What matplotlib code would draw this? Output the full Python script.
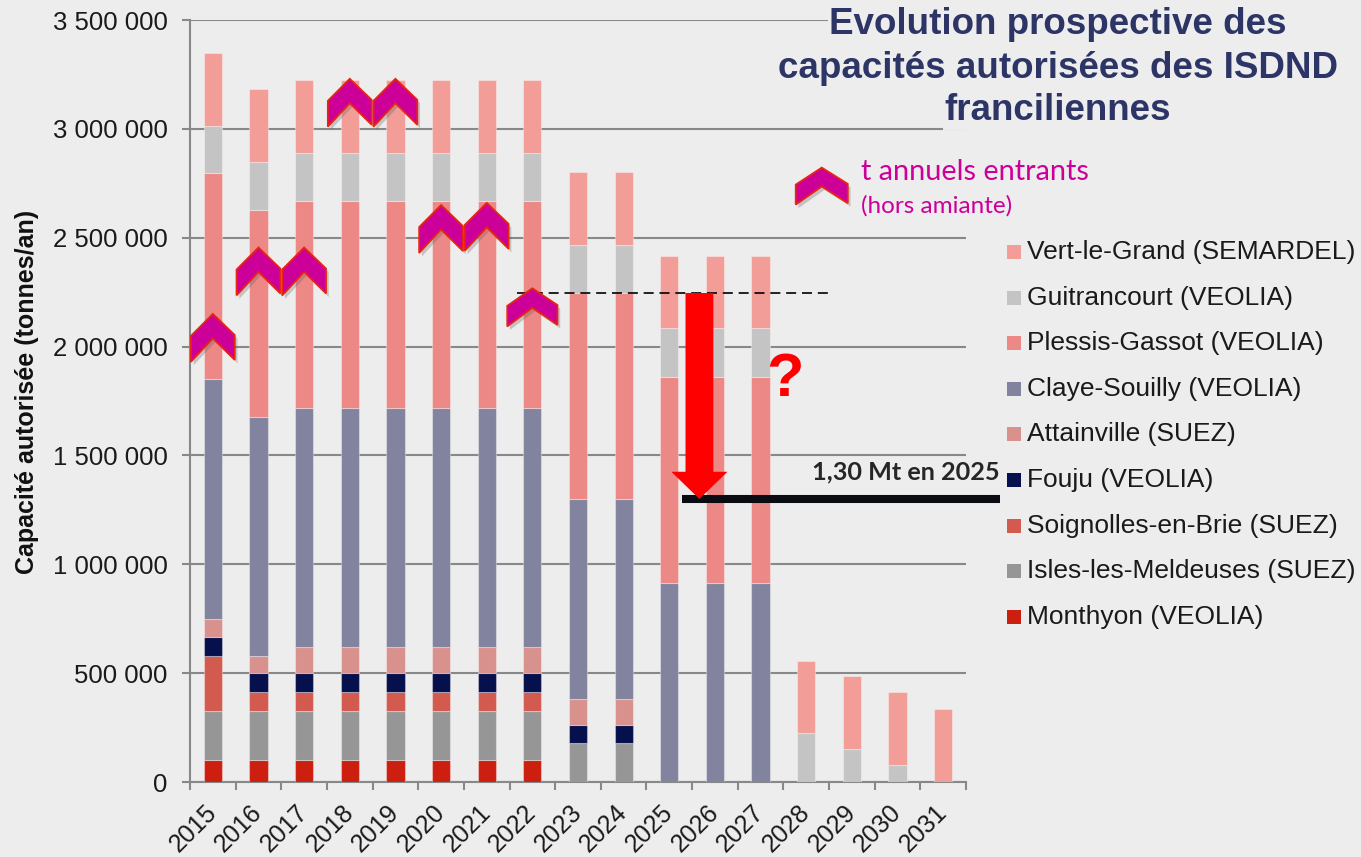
import numpy as np
import matplotlib
matplotlib.use('Agg')
import matplotlib.pyplot as plt
from matplotlib.patches import Polygon, Rectangle
from matplotlib.ticker import FuncFormatter

plt.rcParams['font.family'] = ['Liberation Sans', 'DejaVu Sans']

# --- data (tonnes/an) ---
years = ['2015', '2016', '2017', '2018', '2019', '2020', '2021', '2022', '2023',
         '2024', '2025', '2026', '2027', '2028', '2029', '2030', '2031']

monthyon     = [100000, 100000, 100000, 100000, 100000, 100000, 100000, 100000, 0, 0, 0, 0, 0, 0, 0, 0, 0]
isles        = [225000, 225000, 225000, 225000, 225000, 225000, 225000, 225000, 180000, 180000, 0, 0, 0, 0, 0, 0, 0]
soignolles   = [255000, 88000, 88000, 88000, 88000, 88000, 88000, 88000, 0, 0, 0, 0, 0, 0, 0, 0, 0]
fouju        = [85000, 87000, 87000, 87000, 87000, 87000, 87000, 87000, 83000, 83000, 0, 0, 0, 0, 0, 0, 0]
attainville  = [85000, 78000, 120000, 120000, 120000, 120000, 120000, 120000, 120000, 120000, 0, 0, 0, 0, 0, 0, 0]
claye        = [1100000, 1100000, 1100000, 1100000, 1100000, 1100000, 1100000, 1100000, 915000, 915000,
                915000, 915000, 915000, 0, 0, 0, 0]
plessis      = [945000, 950000, 950000, 950000, 950000, 950000, 950000, 950000, 950000, 950000,
                945000, 945000, 945000, 0, 0, 0, 0]
guitrancourt = [220000, 220000, 220000, 220000, 220000, 220000, 220000, 220000, 220000, 220000,
                225000, 225000, 225000, 225000, 150000, 80000, 0]
vert         = [335000, 335000, 335000, 335000, 335000, 335000, 335000, 335000, 335000, 335000,
                330000, 330000, 330000, 330000, 335000, 335000, 335000]

series = [
    ('Monthyon (VEOLIA)', monthyon, '#CC1F10'),
    ('Isles-les-Meldeuses (SUEZ)', isles, '#969696'),
    ('Soignolles-en-Brie (SUEZ)', soignolles, '#D35A4F'),
    ('Fouju (VEOLIA)', fouju, '#06104C'),
    ('Attainville (SUEZ)', attainville, '#D9918D'),
    ('Claye-Souilly (VEOLIA)', claye, '#82839E'),
    ('Plessis-Gassot (VEOLIA)', plessis, '#EC8885'),
    ('Guitrancourt (VEOLIA)', guitrancourt, '#C4C4C4'),
    ('Vert-le-Grand (SEMARDEL)', vert, '#F29D97'),
]

# tonnages annuels entrants (hors amiante), 2015-2022
entrants = [2040000, 2345000, 2345000, 3120000, 3120000, 2540000, 2550000, 2180000]
niveau_2022 = 2246000
objectif_2025 = 1300000

bg = '#EDEDED'
grid_c = '#888888'
magenta = '#CC0099'

fig = plt.figure(figsize=(13.61, 8.57), dpi=100, facecolor=bg)
ax = fig.add_axes([190 / 1361, 75 / 857, 776 / 1361, 762 / 857], facecolor=bg)

x = np.arange(len(years))
bottom = np.zeros(len(years))
for name, vals, col in series:
    v = np.array(vals, dtype=float)
    ax.bar(x, v, 0.4, bottom=bottom, color=col, edgecolor=(1, 1, 1, 0.35), linewidth=0.8, zorder=3)
    bottom += v

ax.set_xlim(-0.5, 16.5)
ax.set_ylim(0, 3500000)
ax.set_yticks(np.arange(0, 3500001, 500000))
ax.yaxis.set_major_formatter(FuncFormatter(lambda v, p: f'{int(v):,}'.replace(',', ' ')))
ax.yaxis.grid(True, color=grid_c, linewidth=1.5)
ax.set_axisbelow(True)
for s in ['top', 'right']:
    ax.spines[s].set_visible(False)
for s in ['left', 'bottom']:
    ax.spines[s].set_color(grid_c)
    ax.spines[s].set_linewidth(1.5)
ax.tick_params(axis='y', length=6, width=1.5, color=grid_c, labelsize=18.5, labelcolor='#1A1A1A', pad=10)
ax.set_xticks(x)
ax.set_xticklabels(years, rotation=45, ha='right', va='center', rotation_mode='anchor')
ax.set_xticks(np.arange(-0.5, 17, 1), minor=True)
ax.tick_params(axis='x', which='major', length=0, labelsize=18, labelcolor='#1A1A1A', pad=19)
ax.tick_params(axis='x', which='minor', length=6, width=1.5, color=grid_c)

fig.text(27 / 1361, 1 - 392 / 857, 'Capacité autorisée (tonnes/an)', rotation=90,
         ha='center', va='center', fontsize=18, weight='bold', color='#111111')


def chevron(xc, yc, w, h, z=7):
    pts = np.array([[0, .5], [.5, .06], [.5, -.46], [0, -.01], [-.5, -.5], [-.5, .04]])
    xy = np.column_stack([xc + pts[:, 0] * w, yc + pts[:, 1] * h])
    ax.add_patch(Polygon(xy + [0.06, -16000], closed=True, fc='#606060', ec='none',
                         alpha=0.3, zorder=z - 0.1, clip_on=False))
    ax.add_patch(Polygon(xy, closed=True, fc=magenta, ec='#E8260F', lw=1.3, zorder=z, clip_on=False))


for i, v in enumerate(entrants):
    if i == 7:
        chevron(i, v, 1.1, 175000)
    else:
        chevron(i, v, 0.96, 220000)

# legend for chevrons
chevron(13.34, 2737000, 1.14, 170000)
ax.text(14.19, 2802000, 't annuels entrants', fontsize=20.8, color=magenta, family='Lato',
        ha='left', va='center', zorder=8)
ax.text(14.19, 2646000, '(hors amiante)', fontsize=17.5, color=magenta, family='Lato',
        ha='left', va='center', zorder=8)

# dashed reference + arrow + 2025 target
ax.plot([6.67, 13.56], [niveau_2022, niveau_2022], color='black', lw=1.2, dashes=(6, 3.5), zorder=6)
ax.arrow(10.66, niveau_2022, 0, objectif_2025 - niveau_2022, width=0.61, head_width=1.23,
         head_length=125000, length_includes_head=True, fc='#FF0000', ec='none', zorder=7)
ax.plot([10.27, 17.24], [objectif_2025, objectif_2025], color='#0B0B12', lw=5.8,
        solid_capstyle='butt', clip_on=False, zorder=6)
ax.text(17.24, 1424000, '1,30 Mt en 2025', fontsize=18.2, weight='bold', color='#262626',
        family='Lato', ha='right', va='center', clip_on=False, zorder=8)
ax.text(12.53, 1846000, '?', fontsize=44, weight='bold', color='#FF0000', ha='center',
        va='center', zorder=8)

# title
title_lines = ['Evolution prospective des', 'capacités autorisées des ISDND', 'franciliennes']
for yy, t in zip([25, 68, 111], title_lines):
    fig.text(1058 / 1361, 1 - yy / 857, t, ha='center', va='center', fontsize=26.5, weight='bold',
             color='#2C3566', bbox=dict(facecolor=bg, edgecolor='none', pad=1))

# legend (top entry = top of stack)
for k, (name, vals, col) in enumerate(reversed(series)):
    yy = 252 + k * 45.6
    fig.patches.append(Rectangle((1007 / 1361, 1 - (yy + 7) / 857), 14 / 1361, 14 / 857,
                                 transform=fig.transFigure, fc=col, ec='none', figure=fig))
    fig.text(1027 / 1361, 1 - yy / 857, name, ha='left', va='center', fontsize=19, color='#1A1A1A')

fig.savefig('out.png', dpi=100, facecolor=bg)
